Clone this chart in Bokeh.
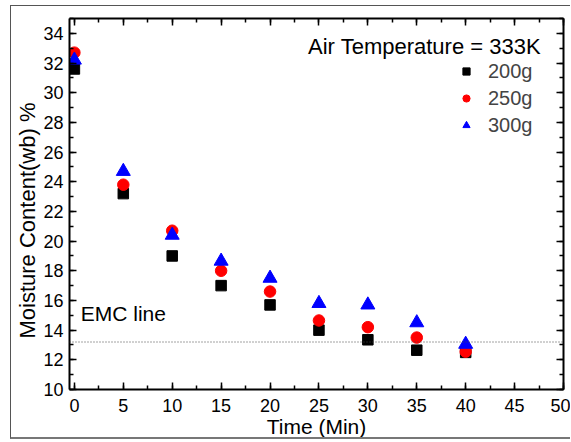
from bokeh.plotting import figure
from bokeh.models import (Range1d, LinearAxis, SingleIntervalTicker, Span, Label,
                          Legend, LegendItem, CustomJSTickFormatter, Title)
from bokeh.embed import file_html
from bokeh.resources import INLINE

# ---- data ----
time_min = [0, 5, 10, 15, 20, 25, 30, 35, 40]
mc_200g = [31.6, 23.2, 19.0, 17.0, 15.7, 14.0, 13.35, 12.65, 12.5]
mc_250g = [32.7, 23.8, 20.7, 18.0, 16.6, 14.65, 14.2, 13.5, 12.55]
mc_300g = [32.2, 24.7, 20.4, 18.65, 17.5, 15.8, 15.7, 14.5, 13.05]
emc_value = 13.2
series_labels = ["200g", "250g", "300g"]
x_ticks_interval = 5
y_ticks_interval = 2

FONT = "Liberation Sans"

p = figure(width=560, height=434, output_backend="svg", toolbar_location=None,
           x_range=Range1d(-0.5, 50), y_range=Range1d(10, 35),
           min_border_left=57, min_border_right=8, min_border_top=12,
           min_border_bottom=51)
p.outline_line_color = None
p.xgrid.visible = False
p.ygrid.visible = False
p.background_fill_color = "white"
p.border_fill_color = "white"

def style_axis(ax, show_labels=True):
    ax.axis_line_width = 2
    ax.axis_line_color = "black"
    ax.major_tick_in = 7
    ax.major_tick_out = 0
    ax.minor_tick_in = 4
    ax.minor_tick_out = 0
    ax.major_tick_line_width = 1.5
    ax.minor_tick_line_width = 1.5
    ax.major_label_text_font = FONT
    ax.major_label_text_font_size = "18px"
    ax.major_label_text_color = "black"
    ax.axis_label_text_font = FONT
    ax.axis_label_text_font_size = "21px"
    ax.axis_label_text_font_style = "normal"
    ax.axis_label_text_color = "black"
    if not show_labels:
        ax.formatter = CustomJSTickFormatter(code="return ''")
        ax.major_label_standoff = 0

xt = SingleIntervalTicker(interval=x_ticks_interval, num_minor_ticks=2)
yt = SingleIntervalTicker(interval=y_ticks_interval, num_minor_ticks=2)

p.xaxis.ticker = xt
p.yaxis.ticker = yt
style_axis(p.xaxis[0])
style_axis(p.yaxis[0])
p.xaxis.axis_label = "Time (Min)"
p.xaxis.major_label_standoff = 9
p.xaxis.axis_label_standoff = 0
p.yaxis.major_label_standoff = 6

top = LinearAxis(ticker=SingleIntervalTicker(interval=x_ticks_interval, num_minor_ticks=2))
style_axis(top, show_labels=False)
p.add_layout(top, "above")
right = LinearAxis(ticker=SingleIntervalTicker(interval=y_ticks_interval, num_minor_ticks=2))
style_axis(right, show_labels=False)
p.add_layout(right, "right")

# y title (placed a little below centre, as in the reference)
p.add_layout(Title(text="Moisture Content(wb) %", text_font=FONT,
                   text_font_size="22px", text_font_style="normal",
                   text_color="black", align="left", offset=51,
                   standoff=2), "left")

# EMC line
p.add_layout(Span(location=emc_value, dimension="width", line_color="#444444",
                  line_width=1, line_dash="1 2"))
p.add_layout(Label(x=0.65, y=15.1, text="EMC line", text_font=FONT,
                   text_font_size="21px", text_baseline="middle", text_color="black"))

r1 = p.scatter(time_min, mc_200g, marker="square", size=10.5, color="black")
r2 = p.scatter(time_min, mc_250g, marker="circle", size=11.5, color="red")
r3 = p.scatter(time_min, mc_300g, marker="triangle", size=14, color="blue")

p.add_layout(Label(x=47.7, y=33.1, text="Air Temperature = 333K", text_font=FONT,
                   text_font_size="22px", text_align="right",
                   text_baseline="middle", text_color="black"))

legend = Legend(items=[LegendItem(label=series_labels[0], renderers=[r1]),
                       LegendItem(label=series_labels[1], renderers=[r2]),
                       LegendItem(label=series_labels[2], renderers=[r3])],
                location=(388, 251), padding=0, margin=0, spacing=1,
                label_text_font=FONT, label_text_font_size="20px",
                label_standoff=13, glyph_width=18, glyph_height=26,
                border_line_alpha=0, background_fill_alpha=0)
p.add_layout(legend, "center")

p.styles = {"border-left": "1px solid #555555", "border-top": "1px solid #555555",
            "border-bottom": "2px solid #777777",
            "margin-left": "10px", "margin-top": "5px"}

open("out.html", "w").write(file_html(p, INLINE))
